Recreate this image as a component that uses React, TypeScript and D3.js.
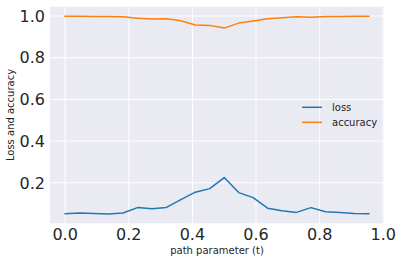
import React, { useEffect, useRef } from "react";
import * as d3 from "d3";

// t = linspace(0, 1, 23)[:-1]
const steps = d3.range(22);
const lossValues = [
  0.052, 0.055, 0.053, 0.05, 0.055, 0.081, 0.076, 0.082, 0.119, 0.155, 0.172,
  0.225, 0.153, 0.129, 0.078, 0.066, 0.058, 0.081, 0.061, 0.057, 0.053, 0.052,
];
const accuracyValues = [
  0.999, 0.999, 0.998, 0.997, 0.996, 0.989, 0.986, 0.987, 0.977, 0.957, 0.955,
  0.942, 0.966, 0.976, 0.987, 0.992, 0.996, 0.994, 0.998, 0.998, 0.999, 0.999,
];
const xTicks = [0, 0.2, 0.4, 0.6, 0.8, 1.0];
const yTicks = [0.2, 0.4, 0.6, 0.8, 1.0];
const seriesNames = ["loss", "accuracy"];
const colors = ["#1f77b4", "#ff7f0e"];

const W = 404, H = 264;
const FONT = "DejaVu Sans, sans-serif";

export default function App() {
  const ref = useRef<SVGSVGElement>(null);

  useEffect(() => {
    const svg = d3.select(ref.current);
    svg.selectAll("*").remove();

    const left = 50, right = 384, top = 6.7, bottom = 223.3;
    const x = d3.scaleLinear().domain([-0.0477, 1.0023]).range([left, right]);
    const y = d3.scaleLinear().domain([0.0057, 1.0446]).range([bottom, top]);

    svg.append("rect").attr("width", W).attr("height", H).attr("fill", "white");
    svg.append("rect")
      .attr("x", left).attr("y", top)
      .attr("width", right - left).attr("height", bottom - top)
      .attr("fill", "#eaeaf2");

    // grid
    svg.append("g").selectAll("line").data(xTicks).join("line")
      .attr("x1", d => x(d)).attr("x2", d => x(d))
      .attr("y1", top).attr("y2", bottom)
      .attr("stroke", "white").attr("stroke-width", 1);
    svg.append("g").selectAll("line").data(yTicks).join("line")
      .attr("x1", left).attr("x2", right)
      .attr("y1", d => y(d)).attr("y2", d => y(d))
      .attr("stroke", "white").attr("stroke-width", 1);

    // tick labels
    svg.append("g").selectAll("text").data(xTicks).join("text")
      .attr("x", d => x(d)).attr("y", bottom + 17)
      .attr("text-anchor", "middle")
      .style("font-family", FONT).style("font-size", "16px")
      .attr("fill", "#262626")
      .text(d => d3.format(".1f")(d));
    svg.append("g").selectAll("text").data(yTicks).join("text")
      .attr("x", left - 5).attr("y", d => y(d) + 5.8)
      .attr("text-anchor", "end")
      .style("font-family", FONT).style("font-size", "16px")
      .attr("fill", "#262626")
      .text(d => d3.format(".1f")(d));

    // axis labels
    svg.append("text")
      .attr("x", (left + right) / 2).attr("y", 254)
      .attr("text-anchor", "middle")
      .style("font-family", FONT).style("font-size", "10px")
      .attr("fill", "#262626")
      .text("path parameter (t)");
    svg.append("text")
      .attr("transform", `translate(14, ${(top + bottom) / 2}) rotate(-90)`)
      .attr("text-anchor", "middle")
      .style("font-family", FONT).style("font-size", "10px")
      .attr("fill", "#262626")
      .text("Loss and accuracy");

    // lines
    const line = d3.line<number>()
      .x((d, i) => x(steps[i] / 22))
      .y(d => y(d));
    [lossValues, accuracyValues].forEach((vals, k) => {
      svg.append("path")
        .datum(vals)
        .attr("d", line)
        .attr("fill", "none")
        .attr("stroke", colors[k])
        .attr("stroke-width", 1.5)
        .attr("stroke-linejoin", "round")
        .attr("stroke-linecap", "square");
    });

    // legend
    const legend = svg.selectAll(".legend").data(seriesNames).join("g")
      .attr("class", "legend")
      .attr("transform", (d, i) => `translate(302, ${107.3 + i * 15})`);
    legend.append("line")
      .attr("x1", 0).attr("x2", 20)
      .attr("stroke", (d, i) => colors[i]).attr("stroke-width", 1.5);
    legend.append("text")
      .attr("x", 30).attr("y", 3.6)
      .style("font-family", FONT).style("font-size", "10px")
      .attr("fill", "#262626")
      .text(d => d);
  }, []);

  return (
    <svg ref={ref} width={W} height={H}
      style={{ position: "absolute", left: 0, top: 0, display: "block" }} />
  );
}
